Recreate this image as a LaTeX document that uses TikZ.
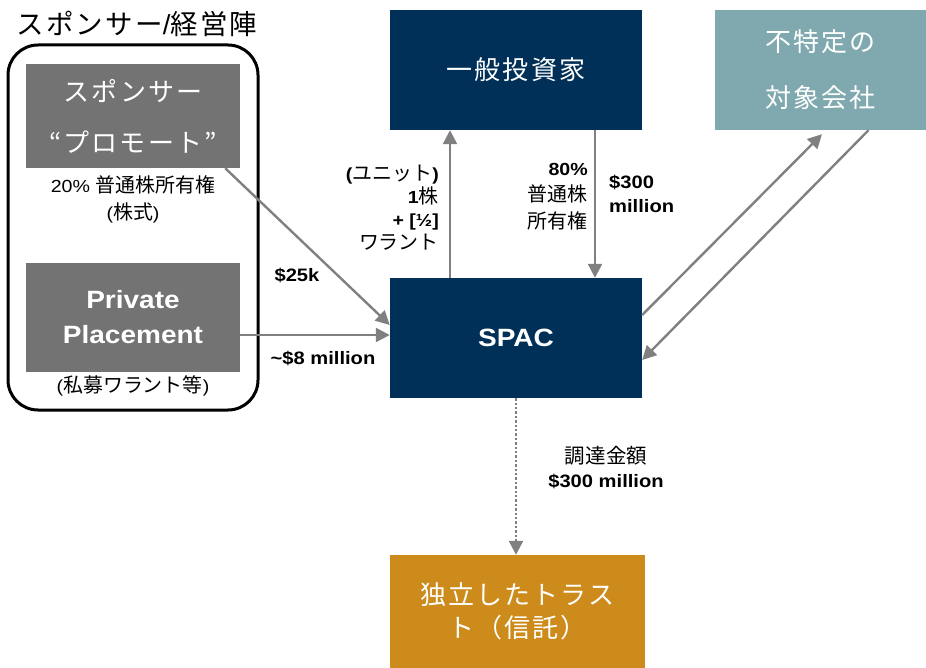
\documentclass[tikz,border=0pt]{standalone}
\usepackage{fontspec}
\setmainfont{Liberation Sans}[FakeStretch=1.12]
\newfontfamily\jp{Noto Sans CJK JP}[Scale=1.14]
\newfontfamily\jpw{Noto Sans CJK JP}[LetterSpace=8]
\newcommand\J[1]{{\jp #1}}
\usetikzlibrary{arrows.meta}
\definecolor{navy}{RGB}{0,48,87}
\definecolor{boxgrey}{RGB}{115,115,115}
\definecolor{teal2}{RGB}{127,169,174}
\definecolor{gold}{RGB}{204,139,27}
\definecolor{arrowgrey}{RGB}{128,128,128}
\tikzset{
  box/.style={rectangle, inner sep=0pt, text=white, align=center},
  lbl/.style={inner sep=0pt, align=center, font=\fontsize{17.5}{25}\selectfont},
  conn/.style={draw=arrowgrey, line width=2.4pt, -{Triangle[length=14pt,width=14pt]}},
}
\begin{document}
\begin{tikzpicture}[x=1pt,y=-1pt]
\useasboundingbox (0,0) rectangle (926,668);
% title and group
\node[inner sep=0pt, font=\jpw\fontsize{27.5}{30}\selectfont] (title) at (137,24) {スポンサー{\fontspec{Liberation Sans}/}経営陣};
\draw[line width=3pt, rounded corners=30pt] (8,45) rectangle (258,410);
% boxes
\node[box, fill=boxgrey, minimum width=214pt, minimum height=104pt,
      font=\jpw\fontsize{26}{30}\selectfont] (promo) at (133,116) {スポンサー\\[21pt]“プロモート”};
\node[box, fill=boxgrey, minimum width=214pt, minimum height=109pt,
      font=\bfseries\fontsize{25}{35}\selectfont] (pp) at (133,317.5) {Private\\Placement};
\node[box, fill=navy, minimum width=252pt, minimum height=120pt,
      font=\jpw\fontsize{26}{30}\selectfont] (inv) at (516,70) {一般投資家};
\node[box, fill=teal2, minimum width=211pt, minimum height=120pt,
      font=\jpw\fontsize{26}{30}\selectfont] (tgt) at (820.5,70) {不特定の\\[26pt]対象会社};
\node[box, fill=navy, minimum width=252pt, minimum height=120pt,
      font=\bfseries\fontsize{25}{30}\selectfont] (spac) at (516,338) {SPAC};
\node[box, fill=gold, minimum width=255pt, minimum height=113pt,
      font=\jpw\fontsize{26}{33}\selectfont] (trust) at (517.5,611.5) {独立したトラス\\ト（信託）};
% labels in group
\node[lbl, font=\fontsize{17.5}{27}\selectfont] (promolbl) at (133,199.5) {20\% \J{普通株所有権}\\(\J{株式})};
\node[lbl] (pplbl) at (133,386) {(\J{私募ワラント等})};
% connectors
\draw[conn] ([xshift=-15pt]promo.south east) -- ([yshift=13pt]spac.west);
\draw[conn] ([yshift=-17.5pt]pp.east) -- ([yshift=-17.5pt]pp.east -| spac.west);
\draw[conn] ([xshift=-66pt]spac.north) -- ([xshift=-66pt]inv.south);
\draw[conn] ([xshift=79pt]inv.south) -- ([xshift=79pt]spac.north);
\draw[conn] ([yshift=23pt]spac.east) -- ([shift={(1.5pt,-4pt)}]tgt.south);
\draw[conn] ([xshift=48pt]tgt.south) -- ([yshift=-22pt]spac.east);
\draw[conn, dotted] (spac.south) -- (spac.south |- trust.north);
% connector labels
\node[lbl, font=\bfseries\fontsize{18}{25}\selectfont] (l25k) at (297,275) {\$25k};
\node[lbl, font=\bfseries\fontsize{18}{25}\selectfont] (l8m) at (323,358) {\textasciitilde\$8 million};
\node[lbl, anchor=east, align=right, font=\fontsize{17.5}{23}\selectfont] (lunit) at (439,207.5)
  {\textbf{(}\J{ユニット}\textbf{)}\\\textbf{1}\J{株}\\\textbf{+ [½]}\\\J{ワラント}};
\node[lbl, anchor=east, align=right, font=\fontsize{17.5}{26.5}\selectfont] (l80) at (588,196.5)
  {\textbf{80\%}\\\J{普通株}\\\J{所有権}};
\node[lbl, anchor=west, align=left, font=\bfseries\fontsize{18}{24}\selectfont] (l300) at (609,194)
  {\$300\\million};
\node[lbl, font=\fontsize{18}{24}\selectfont] (lfund) at (606,468)
  {\J{調達金額}\\\textbf{\$300 million}};
\end{tikzpicture}
\end{document}
